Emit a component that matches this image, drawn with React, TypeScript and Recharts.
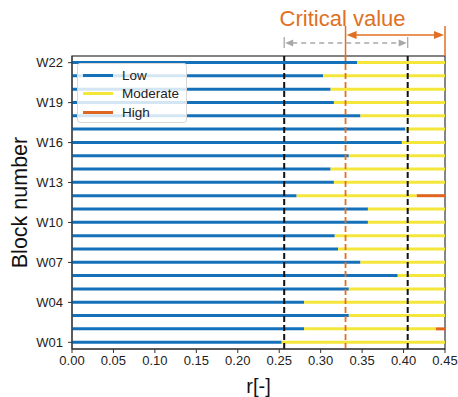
import { BarChart, Bar, XAxis, YAxis, ReferenceLine, ReferenceArea, Legend } from 'recharts'

const blocks = [
  'W01', 'W02', 'W03', 'W04', 'W05', 'W06', 'W07', 'W08', 'W09', 'W10', 'W11',
  'W12', 'W13', 'W14', 'W15', 'W16', 'W17', 'W18', 'W19', 'W20', 'W21', 'W22',
]
// where the Low range ends for each block
const lowEnd = [
  0.253, 0.28, 0.334, 0.28, 0.334, 0.393, 0.348, 0.321, 0.317, 0.357, 0.357,
  0.271, 0.316, 0.312, 0.334, 0.398, 0.402, 0.348, 0.316, 0.312, 0.303, 0.344,
]
// where the Moderate range ends (High beyond it)
const moderateEnd = [
  0.45, 0.439, 0.45, 0.45, 0.45, 0.45, 0.45, 0.45, 0.45, 0.45, 0.45,
  0.416, 0.45, 0.45, 0.45, 0.45, 0.45, 0.45, 0.45, 0.45, 0.45, 0.45,
]
const seriesNames = ['Low', 'Moderate', 'High']
const rMax = 0.45
const xTicks = [0, 0.05, 0.1, 0.15, 0.2, 0.25, 0.3, 0.35, 0.4, 0.45]
const boundLow = 0.256
const boundCritical = 0.33
const boundHigh = 0.405

const COLORS = {
  low: '#1570BA',
  moderate: '#F4E63A',
  high: '#E0651F',
  critical: '#E07024',
  grey: '#A8A8A8',
  axis: '#333333',
}

const FONT = '"Liberation Sans", Arial, sans-serif'

const data = blocks.map((name, i) => ({
  name,
  low: lowEnd[i],
  moderate: moderateEnd[i] - lowEnd[i],
  high: rMax - moderateEnd[i],
}))

function CriticalArrow(props: any) {
  const { x, y, width } = props
  const x2 = x + width
  const ay = y - 21
  const c = COLORS.critical
  return (
    <g>
      <line x1={x} x2={x} y1={y - 30} y2={y} stroke={c} strokeWidth={1.5} />
      <line x1={x2} x2={x2} y1={y - 30} y2={y} stroke={c} strokeWidth={1.5} />
      <line x1={x + 8} x2={x2 - 8} y1={ay} y2={ay} stroke={c} strokeWidth={1.5} />
      <polygon points={`${x + 1},${ay} ${x + 11},${ay - 4} ${x + 11},${ay + 4}`} fill={c} />
      <polygon points={`${x2 - 1},${ay} ${x2 - 11},${ay - 4} ${x2 - 11},${ay + 4}`} fill={c} />
      <text x={x - 3} y={y - 30} textAnchor="middle" fill={c} fontSize={22} fontFamily={FONT}>
        Critical value
      </text>
    </g>
  )
}

function RangeArrow(props: any) {
  const { x, y, width } = props
  const x2 = x + width
  const ay = y - 13
  const c = COLORS.grey
  return (
    <g>
      <line x1={x} x2={x} y1={y - 19} y2={y - 8} stroke={c} strokeWidth={1.3} />
      <line x1={x2} x2={x2} y1={y - 19} y2={y - 8} stroke={c} strokeWidth={1.3} />
      <line x1={x + 8} x2={x2 - 8} y1={ay} y2={ay} stroke={c} strokeWidth={1.3} strokeDasharray="5 4" />
      <polygon points={`${x + 1},${ay} ${x + 9},${ay - 3.5} ${x + 9},${ay + 3.5}`} fill={c} />
      <polygon points={`${x2 - 1},${ay} ${x2 - 9},${ay - 3.5} ${x2 - 9},${ay + 3.5}`} fill={c} />
    </g>
  )
}

function Frame(props: any) {
  const { x, y, width, height } = props
  return <rect x={x} y={y} width={width} height={height} fill="none" stroke={COLORS.axis} strokeWidth={1.2} />
}

function LegendBox({ payload }: any) {
  const items = [...(payload || [])].sort(
    (a: any, b: any) => seriesNames.indexOf(a.value) - seriesNames.indexOf(b.value),
  )
  return (
    <div
      style={{
        width: 110,
        height: 60,
        background: 'rgba(255,255,255,0.82)',
        border: '1px solid #d8d8d8',
        borderRadius: 3,
        fontFamily: FONT,
        fontSize: 13.5,
        color: '#222',
        paddingTop: 2,
        boxSizing: 'border-box',
      }}
    >
      {items.map((p: any) => (
        <div key={p.value} style={{ display: 'flex', alignItems: 'center', height: 18.5 }}>
          <div style={{ width: 30, height: 3, background: p.color, marginLeft: 5, marginRight: 9 }} />
          <span>{p.value}</span>
        </div>
      ))}
    </div>
  )
}

export default function App() {
  return (
    <div style={{ position: 'absolute', left: 0, top: 0, background: '#fff' }}>
      <BarChart
        width={458}
        height={397}
        data={data}
        layout="vertical"
        margin={{ top: 56, right: 13, bottom: 0, left: 0 }}
        barCategoryGap={0}
      >
        <XAxis
          type="number"
          domain={[0, rMax]}
          ticks={xTicks}
          tickFormatter={(v: number) => v.toFixed(2)}
          height={48}
          tickSize={4}
          tickMargin={3}
          stroke={COLORS.axis}
          tick={{ fill: '#222', fontSize: 13, fontFamily: FONT }}
          label={{ value: 'r[-]', position: 'insideBottom', offset: 4, style: { fill: '#111', fontSize: 20, fontFamily: FONT } }}
        />
        <YAxis
          type="category"
          dataKey="name"
          reversed
          interval={2}
          width={72}
          tickSize={4}
          tickMargin={5}
          stroke={COLORS.axis}
          tick={{ fill: '#222', fontSize: 13, fontFamily: FONT }}
          label={{ value: 'Block number', angle: -90, position: 'insideLeft', offset: 0, dx: 19, style: { fill: '#111', fontSize: 21.5, fontFamily: FONT, textAnchor: 'middle' } }}
        />
        <Bar dataKey="low" name="Low" stackId="r" fill={COLORS.low} barSize={3} isAnimationActive={false} />
        <Bar dataKey="moderate" name="Moderate" stackId="r" fill={COLORS.moderate} barSize={3} isAnimationActive={false} />
        <Bar dataKey="high" name="High" stackId="r" fill={COLORS.high} barSize={3} isAnimationActive={false} />
        <ReferenceLine x={boundLow} stroke="#111" strokeWidth={2} strokeDasharray="6 3" />
        <ReferenceLine x={boundCritical} stroke={COLORS.critical} strokeWidth={1.8} strokeDasharray="6 3" />
        <ReferenceLine x={boundHigh} stroke="#111" strokeWidth={2} strokeDasharray="6 3" />
        <ReferenceArea x1={0} x2={rMax} shape={Frame} />
        <ReferenceArea x1={boundCritical} x2={rMax} shape={CriticalArrow} />
        <ReferenceArea x1={boundLow} x2={boundHigh} shape={RangeArrow} />
        <Legend
          layout="horizontal"
          verticalAlign="middle"
          align="center"
          content={<LegendBox />}
          wrapperStyle={{ position: 'absolute', left: 77, top: 63, width: 110 }}
        />
      </BarChart>
    </div>
  )
}
